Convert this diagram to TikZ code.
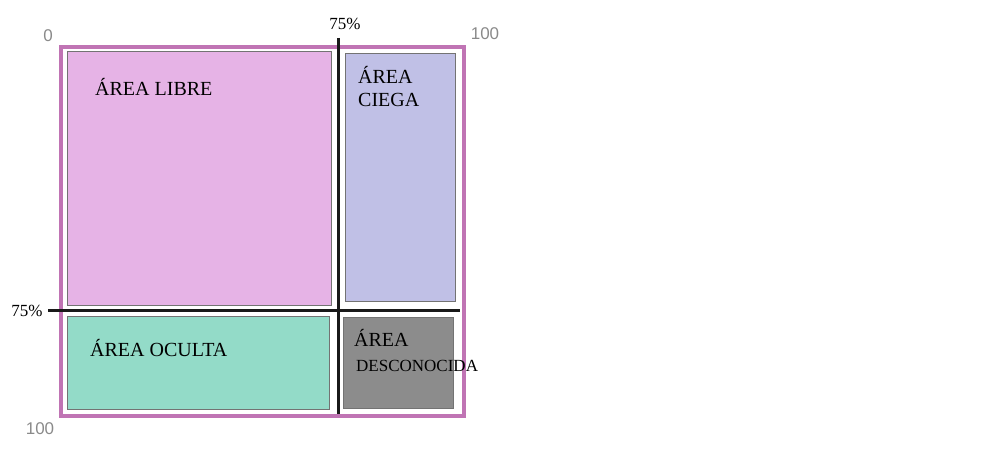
\documentclass[tikz,border=0pt]{standalone}
\usepackage{fontspec}
\setmainfont{Liberation Serif}
\newfontfamily\axisfont{Liberation Sans}
\definecolor{frame}{HTML}{C074B4}
\definecolor{libre}{HTML}{E6B3E6}
\definecolor{ciega}{HTML}{C0C0E6}
\definecolor{oculta}{HTML}{93DBC8}
\definecolor{desc}{HTML}{8C8C8C}
\definecolor{axisgray}{HTML}{8A8A8A}
\begin{document}
\begin{tikzpicture}[x=1pt,y=-1pt,
  areabox/.style={draw=black!55,line width=0.8pt,inner sep=0pt,outer sep=0pt,anchor=north west},
  areatext/.style={font=\fontsize{20}{23}\selectfont,anchor=west,inner sep=0pt,align=left},
  axislabel/.style={font=\axisfont\fontsize{17}{19}\selectfont,text=axisgray,inner sep=0pt},
  pctlabel/.style={font=\fontsize{17}{19}\selectfont,inner sep=0pt},
  divider/.style={line width=3pt,black!90}]
\useasboundingbox (0,0) rectangle (989,452);
\node[draw=frame,line width=4.5pt,inner sep=0pt,outer sep=0pt,anchor=north west,minimum width=403pt,minimum height=369pt] (frm) at (61,47) {};
\node[areabox,fill=libre,minimum width=264pt,minimum height=254pt] (libre) at (67,51) {};
\node[areabox,fill=ciega,minimum width=110pt,minimum height=248pt] (ciega) at (345,53) {};
\node[areabox,fill=oculta,minimum width=262pt,minimum height=93pt] (oculta) at (67,316) {};
\node[areabox,fill=desc,minimum width=110pt,minimum height=91pt] (desc) at (343,317) {};
\coordinate (vtop) at (338,38);
\coordinate (vbot) at (338,414);
\coordinate (hleft) at (48,310);
\coordinate (hright) at (460,310);
\draw[divider] (vtop) -- (vbot);
\draw[divider] (hleft) -- (hright);
\node[areatext] (tlibre) at (95,87) {ÁREA LIBRE};
\node[areatext] (tciega) at (358,87) {ÁREA\\CIEGA};
\node[areatext] (toculta) at (90,348) {ÁREA OCULTA};
\node[areatext] (tarea) at (354,338) {ÁREA};
\node[font=\fontsize{17}{19}\selectfont,anchor=west,inner sep=0pt] (tdesc) at (356,366) {DESCONOCIDA};
\node[axislabel] (z) at (48,36) {0};
\node[axislabel] (h1) at (485,34) {100};
\node[axislabel] (h2) at (40,429) {100};
\node[pctlabel] (p1) at (345,24) {75\%};
\node[pctlabel] (p2) at (27,311) {75\%};
\end{tikzpicture}
\end{document}
